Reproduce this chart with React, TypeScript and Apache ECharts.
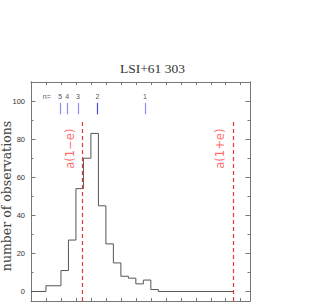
import React, { useEffect, useRef } from "react";
import * as echarts from "echarts";

const binEdges = [0, 1, 2, 2.5, 3, 3.5, 4, 4.5, 5, 5.5, 6, 6.5, 7, 7.5, 8, 8.5, 13.5];
const counts = [0, 3, 11, 27, 54, 70, 83, 45, 25, 15, 8, 7, 4, 6, 1, 0];
const resonanceX = [1.95, 2.42, 3.13, 4.44, 7.6];
const resonanceLabels = ["5", "4", "3", "2", "1"];
const resonanceColors = ["#8c8cf2", "#8c8cf2", "#8c8cf2", "#4a4ad6", "#8c8cf2"];
const resonanceLow = 93;
const resonanceHigh = 99;
const resonanceLabelY = 102.3;
const nLabelX = 1.05;
const yMajorTicks = [0, 20, 40, 60, 80, 100];
const yMinorTicks = [10, 30, 50, 70, 90];
const periastron = 3.4;
const apastron = 13.5;
const orbitLineTop = 90;
const orbitLabels = ["a(1\u2212e)", "a(1+e)"];
const orbitLabelY = 75;
const X_MIN = 0;
const X_MAX = 14.62;
const Y_MIN = -5;
const Y_MAX = 110;

const FRAME = "#777";

export default function App() {
  const ref = useRef<HTMLDivElement>(null);
  useEffect(() => {
    if (!ref.current) return;
    const chart = echarts.init(ref.current, null, { renderer: "svg" });
    const histData = binEdges.map((e, i) => [e, counts[Math.min(i, counts.length - 1)]]);

    const yAxisBase = (position: string, ticks: number[], len: number, showLabel: boolean) => ({
      type: "value",
      position,
      min: Y_MIN,
      max: Y_MAX,
      splitLine: { show: false },
      axisLine: { show: true, lineStyle: { color: FRAME, width: 1 } },
      axisTick: {
        show: true,
        inside: true,
        length: len,
        customValues: ticks,
        lineStyle: { color: FRAME, width: 1 },
      },
      axisLabel: showLabel
        ? {
            show: true,
            customValues: ticks,
            fontSize: 7.5,
            fontFamily: "Liberation Sans",
            color: "#333",
            margin: 6,
          }
        : { show: false },
    });

    const xAxisBase = (position: string) => ({
      type: "value",
      position,
      min: X_MIN,
      max: X_MAX,
      interval: 1,
      splitLine: { show: false },
      axisLine: { show: true, onZero: false, lineStyle: { color: FRAME, width: 1 } },
      axisTick: { show: true, inside: true, length: 3, lineStyle: { color: FRAME, width: 1 } },
      axisLabel: { show: false },
    });

    const textLabel = (extra: object) => ({
      show: true,
      position: [0, 0],
      align: "center",
      verticalAlign: "middle",
      formatter: "{b}",
      ...extra,
    });

    chart.setOption({
      animation: false,
      backgroundColor: "#fff",
      title: {
        text: "LSI+61 303",
        left: 147.5,
        top: 56,
        textAlign: "center",
        textStyle: {
          fontFamily: "Liberation Serif",
          fontWeight: "normal",
          fontSize: 13.5,
          color: "#333",
        },
      },
      grid: { left: 31, top: 82, width: 219, height: 219, containLabel: false },
      xAxis: [xAxisBase("bottom"), xAxisBase("top")],
      yAxis: [
        yAxisBase("left", yMajorTicks, 4.5, true),
        yAxisBase("left", yMinorTicks, 2.5, false),
        yAxisBase("right", yMajorTicks, 4.5, false),
        yAxisBase("right", yMinorTicks, 2.5, false),
      ],
      graphic: [
        {
          type: "text",
          x: 6,
          y: 196,
          rotation: Math.PI / 2,
          style: {
            text: "number of observations",
            fontFamily: "DejaVu Serif",
            fontSize: 12.5,
            fill: "#444",
            align: "center",
            verticalAlign: "middle",
          },
        },
      ],
      series: [
        {
          type: "line",
          step: "end",
          data: histData,
          symbol: "none",
          lineStyle: { color: "#555", width: 1 },
          z: 2,
        },
        {
          type: "line",
          data: [],
          symbol: "none",
          markLine: {
            silent: true,
            symbol: ["none", "none"],
            label: { show: false },
            data: resonanceX.map((x, i) => [
              { coord: [x, resonanceLow], lineStyle: { color: resonanceColors[i], width: 1.2, type: "solid" } },
              { coord: [x, resonanceHigh] },
            ]),
          },
        },
        {
          type: "line",
          data: [],
          symbol: "none",
          markLine: {
            silent: true,
            symbol: ["none", "none"],
            label: { show: false },
            lineStyle: { color: "#ee3333", width: 1.2, type: [4, 3] },
            data: [periastron, apastron].map((x) => [
              { coord: [x, Y_MIN] },
              { coord: [x, orbitLineTop] },
            ]),
          },
          z: 3,
        },
        {
          type: "scatter",
          symbolSize: 0,
          itemStyle: { color: "#222" },
          data: [
            ...resonanceX.map((x, i) => ({ value: [x, resonanceLabelY], name: resonanceLabels[i] })),
            { value: [nLabelX, resonanceLabelY], name: "n=" },
          ],
          label: textLabel({
            fontSize: 7,
            fontFamily: "Liberation Sans",
            color: "#222",
          }),
        },
        {
          type: "scatter",
          symbolSize: 0,
          itemStyle: { color: "#ff4444" },
          data: [
            { value: [periastron - 0.8, orbitLabelY], name: orbitLabels[0] },
            { value: [apastron - 0.88, orbitLabelY], name: orbitLabels[1] },
          ],
          label: textLabel({
            rotate: 90,
            fontSize: 11.5,
            fontFamily: "DejaVu Sans",
            color: "#ff4444",
          }),
        },
      ],
    });
    return () => chart.dispose();
  }, []);
  return <div ref={ref} style={{ position: "absolute", left: 0, top: 0, width: 331, height: 305 }} />;
}
